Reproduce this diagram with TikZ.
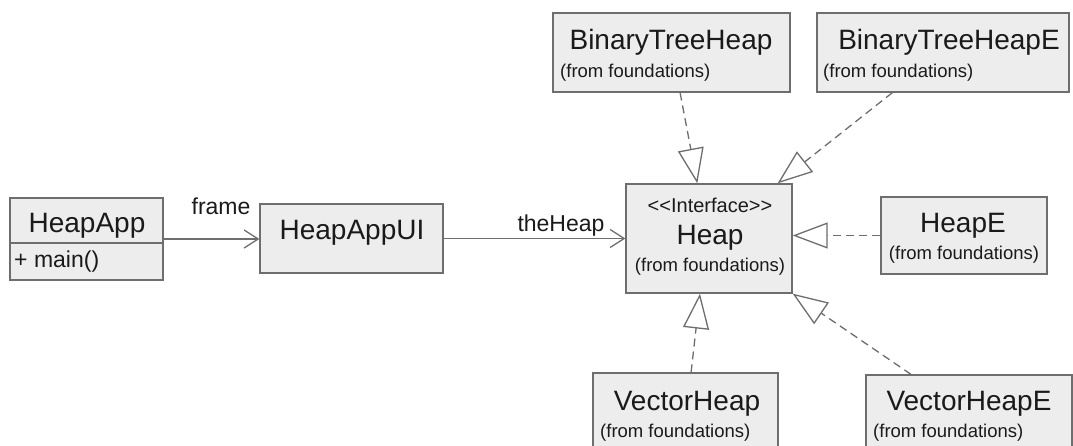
\documentclass[tikz,border=0pt]{standalone}
\usepackage{fontspec}
\setmainfont{Liberation Sans}
\usetikzlibrary{arrows.meta,calc}
\definecolor{boxfill}{HTML}{EDEDED}
\definecolor{boxline}{HTML}{6E6E6E}
\definecolor{txt}{HTML}{1A1A1A}
\tikzset{
  classbox/.style={draw=boxline, fill=boxfill, line width=1.3pt, rectangle, inner sep=0pt},
  bigname/.style={anchor=base, text=txt, inner sep=0pt, font=\fontsize{28}{30}\selectfont},
  fromtxt/.style={anchor=base, text=txt, inner sep=0pt, font=\fontsize{18.5}{20}\selectfont},
  fromleft/.style={fromtxt, anchor=base west},
  stereo/.style={anchor=base, text=txt, inner sep=0pt, font=\fontsize{20}{22}\selectfont},
  rolelabel/.style={anchor=base, text=txt, inner sep=0pt, font=\fontsize{23}{25}\selectfont},
  assoc/.style={draw=boxline, line width=1.3pt, -{Straight Barb[length=14pt,width=18pt,line width=1.3pt]}},
  realize/.style={draw=boxline, line width=1.3pt, dash pattern=on 8pt off 5pt,
    -{Triangle[open,length=35pt,width=26pt,fill=white,line width=1.3pt]}},
}
\begin{document}
\begin{tikzpicture}[x=1pt,y=-1pt]
\useasboundingbox (0,0) rectangle (1073,446);
\clip (0,0) rectangle (1073,446);
\fill[white] (0,0) rectangle (1073,446);

% class boxes
\node[classbox, minimum width=153pt, minimum height=82pt] (app) at (86.5,239) {};
\draw[boxline, line width=1.3pt] (app.west |- 0,243) -- (app.east |- 0,243);
\node[classbox, minimum width=183pt, minimum height=69pt] (ui) at (351.5,238.5) {};
\node[classbox, minimum width=237pt, minimum height=79pt] (bth) at (671.5,52.5) {};
\node[classbox, minimum width=252pt, minimum height=79pt] (bthe) at (943,52.5) {};
\node[classbox, minimum width=166pt, minimum height=109pt] (heap) at (709,238.5) {};
\node[classbox, minimum width=166pt, minimum height=77pt] (hpe) at (964,235.5) {};
\node[classbox, minimum width=185pt, minimum height=107pt] (vh) at (685.5,426.5) {};
\node[classbox, minimum width=206pt, minimum height=105pt] (vhe) at (969,427.5) {};

% texts
\node[bigname] (tapp) at (87,233) {HeapApp};
\node[anchor=base west, text=txt, inner sep=0pt, font=\fontsize{23}{25}\selectfont] (tmain) at (14,268) {+ main()};
\node[bigname] (tui) at (352,240) {HeapAppUI};
\node[bigname] (tbth) at (671,50) {BinaryTreeHeap};
\node[fromleft] (fbth) at (560,78) {(from foundations)};
\node[bigname] (tbthe) at (949,50) {BinaryTreeHeapE};
\node[fromleft] (fbthe) at (823,78) {(from foundations)};
\node[stereo] (theapst) at (710,213) {<{}<Interface>{}>};
\node[bigname] (theap) at (710,245) {Heap};
\node[fromtxt] (fheap) at (710,272) {(from foundations)};
\node[bigname] (thpe) at (963,233) {HeapE};
\node[fromtxt] (fhpe) at (964,260) {(from foundations)};
\node[bigname] (tvh) at (687,410) {VectorHeap};
\node[fromleft] (fvh) at (600,437) {(from foundations)};
\node[bigname] (tvhe) at (969,410) {VectorHeapE};
\node[fromleft] (fvhe) at (873,437) {(from foundations)};

% associations
\draw[assoc] (app.east) -- (app.east -| ui.west);
\node[rolelabel] (lframe) at (221,215) {frame};
\draw[assoc] (ui.east) -- (ui.east -| heap.west);
\node[rolelabel] (ltheheap) at (561,232) {theHeap};

% realizations
\draw[realize] ($(bth.south west)!0.536!(bth.south east)$) -- ($(heap.north west)!0.43!(heap.north east)$);
\draw[realize] ($(bthe.south west)!0.30!(bthe.south east)$) -- ($(heap.north west)!0.91!(heap.north east)$);
\draw[realize] (hpe.west) -- (hpe.west -| heap.east);
\draw[realize] ($(vh.north west)!0.53!(vh.north east)$) -- ($(heap.south west)!0.446!(heap.south east)$);
\draw[realize] ($(vhe.north west)!0.22!(vhe.north east)$) -- (heap.south east);
\end{tikzpicture}
\end{document}
